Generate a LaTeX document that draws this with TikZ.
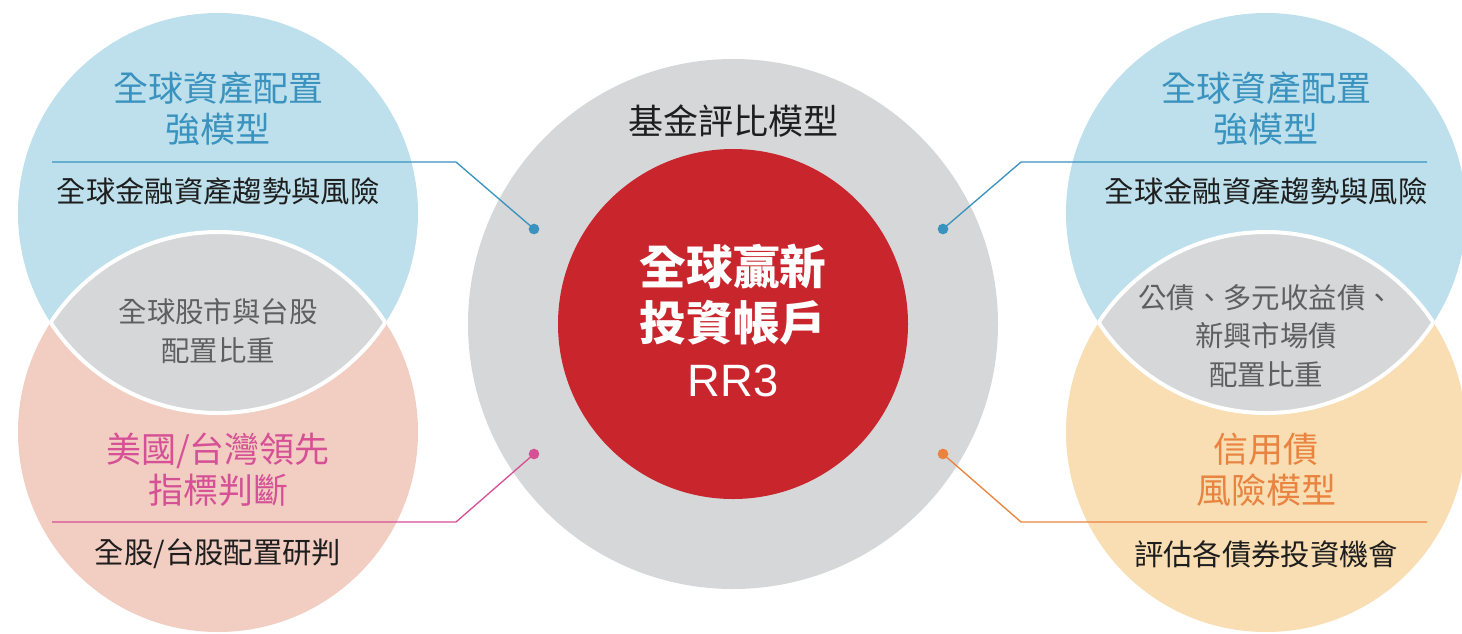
\documentclass[tikz,border=0pt]{standalone}
\usepackage{fontspec}
\setmainfont{Noto Sans CJK TC}
\newfontfamily\latinfont{Liberation Sans}
\definecolor{cblue}{RGB}{189,224,236}
\definecolor{cpink}{RGB}{242,205,193}
\definecolor{corange}{RGB}{248,222,178}
\definecolor{cgray}{RGB}{214,215,217}
\definecolor{cred}{RGB}{200,37,45}
\definecolor{tblue}{RGB}{58,146,190}
\definecolor{tpink}{RGB}{214,80,150}
\definecolor{torange}{RGB}{233,131,63}
\definecolor{tgray}{RGB}{95,95,95}
\definecolor{tblack}{RGB}{30,30,30}
\tikzset{
  bigtext/.style={font=\fontsize{26.25}{30.75}\selectfont, align=center, inner sep=0pt},
  smalltext/.style={font=\fontsize{22}{28.5}\selectfont, align=center, inner sep=0pt, text=tblack},
  lenstext/.style={font=\fontsize{21.3}{28.9}\selectfont, align=center, inner sep=0pt, text=tgray},
  redtext/.style={font=\fontsize{35}{42}\selectfont\bfseries, align=center, inner sep=0pt, text=white},
  rrtext/.style={font=\latinfont\fontsize{34}{36}\selectfont, inner sep=0pt, text=white},
  dotnode/.style={circle, inner sep=0pt, minimum size=8pt},
  conn/.style={line width=1pt}
}
\begin{document}
\begin{tikzpicture}[x=0.75pt,y=-0.75pt]
\useasboundingbox (0,0) rectangle (1462,633);
% side circles
\fill[cblue] (218,213) circle (200);
\fill[cpink] (218,432) circle (200);
\fill[cblue] (1266,213) circle (200);
\fill[corange] (1266,432) circle (200);
% lenses
\begin{scope}
  \clip (218,213) circle (200);
  \fill[cgray] (218,432) circle (200);
  \draw[white, line width=3pt] (218,432) circle (200);
\end{scope}
\begin{scope}
  \clip (218,432) circle (200);
  \draw[white, line width=3pt] (218,213) circle (200);
\end{scope}
\begin{scope}
  \clip (1266,213) circle (200);
  \fill[cgray] (1266,432) circle (200);
  \draw[white, line width=3pt] (1266,432) circle (200);
\end{scope}
\begin{scope}
  \clip (1266,432) circle (200);
  \draw[white, line width=3pt] (1266,213) circle (200);
\end{scope}
% center circles
\fill[cgray] (733,324) circle (265);
\fill[cred] (733,324) circle (175);

% texts left
\node[bigtext, text=tblue] (tl1) at (218,109) {全球資產配置\\強模型};
\node[smalltext] (tl2) at (218,191) {全球金融資產趨勢與風險};
\node[lenstext] (ll) at (218,331) {全球股市與台股\\配置比重};
\node[bigtext, text=tpink] (bl1) at (218,470) {美國/台灣領先\\指標判斷};
\node[smalltext] (bl2) at (218,554) {全股/台股配置研判};
% texts right
\node[bigtext, text=tblue] (tr1) at (1266,109) {全球資產配置\\強模型};
\node[smalltext] (tr2) at (1266,191) {全球金融資產趨勢與風險};
\node[lenstext] (lr) at (1266,336) {公債、多元收益債、\\新興市場債\\配置比重};
\node[bigtext, text=torange] (br1) at (1266,470) {信用債\\風險模型};
\node[smalltext] (br2) at (1266,554) {評估各債券投資機會};
% center texts
\node[bigtext, text=tblack] (ct) at (733,121) {基金評比模型};
\node[redtext] (rt) at (733,295) {全球贏新\\投資帳戶};
\node[rrtext, anchor=base] (rr) at (733,396) {RR3};

% dots
\node[dotnode, fill=tblue] (d1) at (534,229) {};
\node[dotnode, fill=tblue] (d2) at (943,229) {};
\node[dotnode, fill=tpink] (d3) at (534,454) {};
\node[dotnode, fill=torange] (d4) at (943,454) {};
% connector coordinates
\coordinate (k1) at (456,162);
\coordinate (e1) at (52,162);
\coordinate (k2) at (1021,162);
\coordinate (e2) at (1427,162);
\coordinate (k3) at (456,522);
\coordinate (e3) at (52,522);
\coordinate (k4) at (1021,522);
\coordinate (e4) at (1427,522);
\draw[conn, tblue] (d1.center) -- (k1) -- (e1);
\draw[conn, tblue] (d2.center) -- (k2) -- (e2);
\draw[conn, tpink] (d3.center) -- (k3) -- (e3);
\draw[conn, torange] (d4.center) -- (k4) -- (e4);
\end{tikzpicture}
\end{document}
